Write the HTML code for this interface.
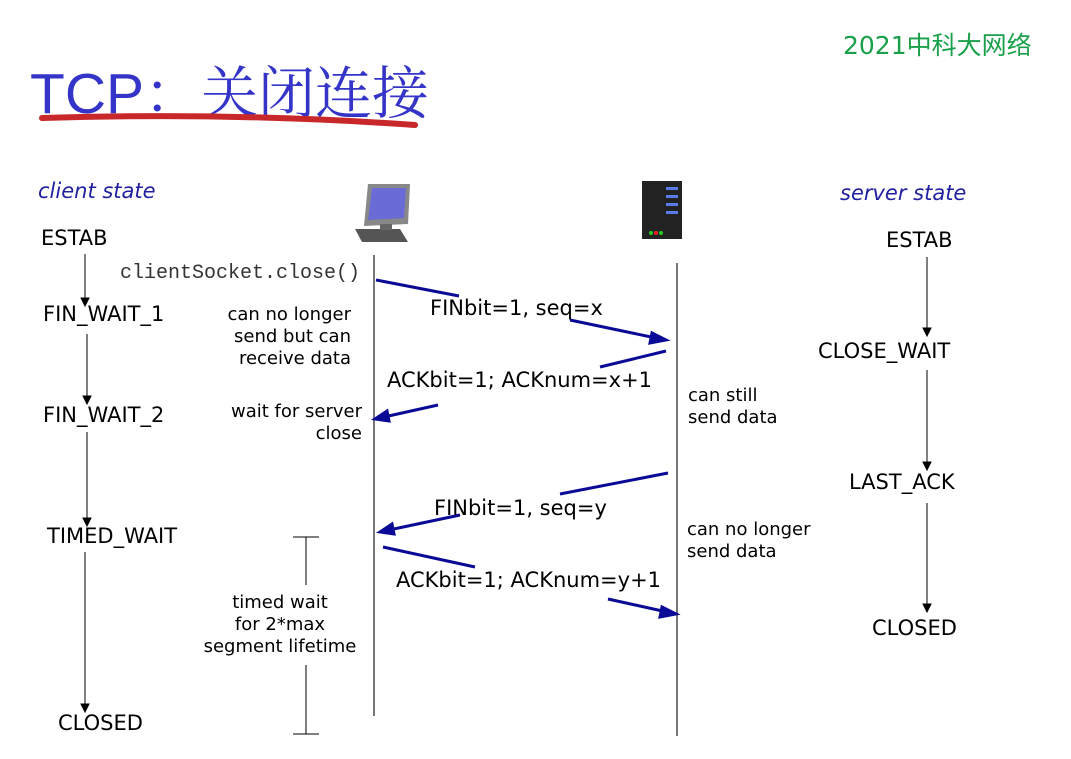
<!DOCTYPE html>
<html><head><meta charset="utf-8"><style>
body{margin:0;width:1071px;height:759px;background:#fff;position:relative;overflow:hidden;font-family:"DejaVu Sans","Liberation Sans",sans-serif;color:#000}
.t{position:absolute;white-space:nowrap;font-size:21px}
.s{position:absolute;white-space:nowrap;font-size:18px;line-height:22px}
</style></head><body>
<div class="t" style="left:843px;top:26px;color:#1aa04a;font-size:25px;font-family:'DejaVu Sans','Noto Sans CJK SC',sans-serif">2021中科大网络</div>
<div class="t" style="left:30px;top:48px;color:#3434c8;font-size:57px;font-family:'Liberation Sans','Noto Serif CJK SC',sans-serif">TCP：关闭连接</div>
<svg width="1071" height="759" style="position:absolute;left:0;top:0">
<path d="M42 118 Q230 112 415 125" stroke="#c8282a" stroke-width="6" fill="none" stroke-linecap="round"/>
<g stroke="#777" stroke-width="2"><line x1="374" y1="255" x2="374" y2="716"/><line x1="677" y1="263" x2="677" y2="736"/></g>
<g stroke="#000" stroke-width="1" fill="#000">
<line x1="85" y1="254" x2="85" y2="300"/><polygon points="81,298 89,298 85,306"/>
<line x1="87" y1="334" x2="87" y2="398"/><polygon points="83,396 91,396 87,404"/>
<line x1="87" y1="432" x2="87" y2="520"/><polygon points="83,518 91,518 87,526"/>
<line x1="85" y1="552" x2="85" y2="706"/><polygon points="81,704 89,704 85,712"/>
<line x1="927" y1="257" x2="927" y2="330"/><polygon points="923,328 931,328 927,336"/>
<line x1="927" y1="370" x2="927" y2="464"/><polygon points="923,462 931,462 927,470"/>
<line x1="927" y1="503" x2="927" y2="606"/><polygon points="923,604 931,604 927,612"/>
<line x1="306" y1="537" x2="306" y2="585"/><line x1="293" y1="537" x2="319" y2="537"/>
<line x1="306" y1="665" x2="306" y2="734"/><line x1="293" y1="734" x2="319" y2="734"/>
</g>
<g stroke="#0a0a96" stroke-width="3" fill="#0a0a96">
<line x1="376" y1="280" x2="459" y2="296"/>
<line x1="570" y1="320" x2="656" y2="338"/><polygon points="666,340 652,333 650,343"/>
<line x1="666" y1="351" x2="600" y2="367"/>
<line x1="438" y1="405" x2="384" y2="417"/><polygon points="375,419 387,411 389,421"/>
<line x1="668" y1="473" x2="560" y2="494"/>
<line x1="460" y1="515" x2="389" y2="530"/><polygon points="380,532 392,524 394,534"/>
<line x1="383" y1="547" x2="475" y2="567"/>
<line x1="608" y1="599" x2="667" y2="612"/><polygon points="676,614 662,607 660,617"/>
</g>
<g transform="translate(350,184)">
<polygon points="18,0 60,0 58,40 14,42" fill="#888"/>
<polygon points="22,4 56,4 54,34 18,36" fill="#6b6bd8"/>
<polygon points="5,45 50,45 58,58 12,58" fill="#555"/>
<rect x="30" y="40" width="12" height="6" fill="#666"/>
</g>
<g transform="translate(642,181)">
<rect x="0" y="0" width="40" height="58" fill="#222"/>
<g fill="#5a7ae8"><rect x="24" y="6" width="12" height="3"/><rect x="24" y="14" width="12" height="3"/><rect x="24" y="22" width="12" height="3"/><rect x="24" y="30" width="12" height="3"/></g>
<circle cx="9" cy="52" r="2" fill="#2c2"/><circle cx="14" cy="52" r="2" fill="#e22"/><circle cx="19" cy="52" r="2" fill="#2c2"/>
</g>
</svg>
<div class="t" style="left:38px;top:179px;color:#2020a0;font-style:italic">client state</div>
<div class="t" style="left:840px;top:181px;color:#2020a0;font-style:italic">server state</div>
<div class="t" style="left:41px;top:226px">ESTAB</div>
<div class="t" style="left:43px;top:302px">FIN_WAIT_1</div>
<div class="t" style="left:43px;top:403px">FIN_WAIT_2</div>
<div class="t" style="left:47px;top:524px">TIMED_WAIT</div>
<div class="t" style="left:58px;top:711px">CLOSED</div>
<div class="t" style="left:886px;top:228px">ESTAB</div>
<div class="t" style="left:818px;top:339px">CLOSE_WAIT</div>
<div class="t" style="left:849px;top:470px">LAST_ACK</div>
<div class="t" style="left:872px;top:616px">CLOSED</div>
<div class="s" style="left:120px;top:263px;font-family:'Liberation Mono',monospace;font-size:20px;color:#333">clientSocket.close()</div>
<div class="s" style="left:210px;top:304px;text-align:right;width:141px">can no longer<br>send but can<br>receive data</div>
<div class="s" style="left:210px;top:401px;text-align:right;width:152px">wait for server<br>close</div>
<div class="s" style="left:688px;top:385px">can still<br>send data</div>
<div class="s" style="left:687px;top:519px">can no longer<br>send data</div>
<div class="s" style="left:178px;top:592px;text-align:center;width:204px">timed wait<br>for 2*max<br>segment lifetime</div>
<div class="t" style="left:430px;top:296px">FINbit=1, seq=x</div>
<div class="t" style="left:387px;top:368px">ACKbit=1; ACKnum=x+1</div>
<div class="t" style="left:434px;top:496px">FINbit=1, seq=y</div>
<div class="t" style="left:396px;top:568px">ACKbit=1; ACKnum=y+1</div>
</body></html>
